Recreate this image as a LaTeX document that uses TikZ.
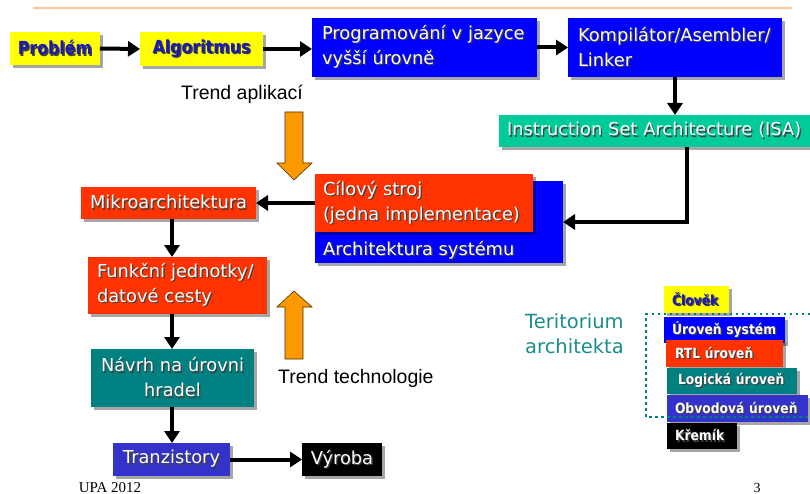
\documentclass[tikz,border=0pt]{standalone}
\usepackage{fontspec}
\setmainfont{DejaVu Sans}
\newfontfamily\narrowbold{DejaVu Sans}[FakeStretch=0.88]
\newfontfamily\arialfont{Liberation Sans}
\newfontfamily\timesfont{Liberation Serif}
\usetikzlibrary{arrows.meta,shadows}

\definecolor{cYellow}{HTML}{FFFF00}
\definecolor{cBlue}{HTML}{0000FF}
\definecolor{cRed}{HTML}{FF3300}
\definecolor{cTeal}{HTML}{008080}
\definecolor{cIsa}{HTML}{00CC99}
\definecolor{cSlate}{HTML}{3333CC}
\definecolor{cOrange}{HTML}{FF9900}
\definecolor{cInk}{HTML}{1A1AB4}
\definecolor{cRule}{HTML}{FAC59A}
\definecolor{cTerr}{HTML}{1A8C8C}

% one line of text with a small dark drop shadow
\newcommand\sht[1]{\leavevmode\rlap{\kern1.3pt\raisebox{-1.3pt}{\color{black!75}\mbox{#1}}}\mbox{#1}}

\begin{document}
\begin{tikzpicture}[x=1pt, y=-1pt,
  box/.style={anchor=north west, inner sep=0pt, outer sep=0pt, text=white,
    font=\fontsize{17.8}{25}\selectfont,
    drop shadow={shadow xshift=3pt, shadow yshift=-3pt, fill=black, opacity=0.35}},
  hdr/.style={box, text=cInk, font=\narrowbold\bfseries\fontsize{18}{20}\selectfont},
  lg/.style={box, font=\narrowbold\bfseries\fontsize{14}{16}\selectfont, align=left},
  conn/.style={line width=4pt, -{Triangle[length=12pt,width=15pt]}},
  trend/.style={draw=black!70!cOrange, line width=0.6pt, fill=cOrange, line join=miter},
  note/.style={inner sep=0pt, font=\arialfont\fontsize{19.5}{22}\selectfont}]

\useasboundingbox (0,0) rectangle (810,494);

% title rule
\draw[cRule, line width=2.5pt] (33,8) -- (792,8);

% top row
\node[hdr, fill=cYellow, minimum width=90pt, minimum height=33pt] (prob) at (10,32) {\sht{Problém}};
\node[hdr, fill=cYellow, minimum width=123pt, minimum height=34pt] (alg) at (140,32) {\sht{Algoritmus}};
\node[box, fill=cBlue, minimum width=225pt, minimum height=59pt, inner xsep=10pt, text width=205pt, align=left] (prog) at (312,18)
  {\sht{Programování v jazyce}\\\sht{vyšší úrovně}};
\node[box, fill=cBlue, minimum width=214pt, minimum height=59pt, inner xsep=10pt, text width=194pt, align=left] (komp) at (568,18)
  {\sht{Kompilátor/Asembler/}\\\sht{Linker}};
\node[box, fill=cIsa, minimum width=311pt, minimum height=32pt, inner xsep=8pt, text width=295pt, align=left] (isa) at (499,115)
  {\sht{Instruction Set Architecture (ISA)}};

% target machine and system architecture
\node[box, fill=cBlue, minimum width=248pt, minimum height=82pt] (sys) at (315,181) {};
\node[anchor=base west, inner sep=0pt, text=white, font=\fontsize{17.8}{25}\selectfont] (systxt) at (323,255) {\sht{Architektura systému}};
\node[box, fill=cRed, minimum width=218pt, minimum height=58pt, inner xsep=8pt, text width=202pt, align=left] (cil) at (315,174)
  {\sht{Cílový stroj}\\\sht{(jedna implementace)}};

% left column
\node[box, fill=cRed, minimum width=175pt, minimum height=32pt] (mikro) at (81,187) {\sht{Mikroarchitektura}};
\node[box, fill=cRed, minimum width=179pt, minimum height=57pt, inner xsep=9pt, text width=161pt, align=left] (funk) at (88,257)
  {\sht{Funkční jednotky/}\\\sht{datové cesty}};
\node[box, fill=cTeal, minimum width=163pt, minimum height=58pt, text width=163pt, align=center] (navrh) at (91,349)
  {\sht{Návrh na úrovni}\\\sht{hradel}};
\node[box, fill=cSlate, minimum width=117pt, minimum height=33pt] (tranz) at (113,443) {\sht{Tranzistory}};
\node[box, fill=black, minimum width=80pt, minimum height=33pt] (vyr) at (302,443) {\sht{Výroba}};

% connectors
\coordinate (spine) at (172,0);
\coordinate (bend) at (687,222);
\draw[conn] (prob.east) -- (alg.west);
\draw[conn] (alg.east) -- (alg.east -| prog.west);
\draw[conn] (prog.east) -- (komp.west);
\draw[conn] (komp.south) -- (komp.south |- isa.north);
\draw[conn] (isa.south -| bend) -- (bend) -- (bend -| sys.east);
\draw[conn] (cil.west) -- (mikro.east);
\draw[conn] (mikro.south -| spine) -- (funk.north -| spine);
\draw[conn] (funk.south -| spine) -- (navrh.north -| spine);
\draw[conn] (navrh.south -| spine) -- (tranz.north -| spine);
\draw[conn] (tranz.east) -- (vyr.west);

% trend arrows
\draw[trend] (285,112) -- (303,112) -- (303,163) -- (312,163) -- (294,180) -- (277,163) -- (285,163) -- cycle;
\draw[trend] (285,359) -- (303,359) -- (303,307) -- (312,307) -- (294,291) -- (277,307) -- (285,307) -- cycle;
\node[note, anchor=base] (tapp) at (242,100) {Trend aplikací};
\node[note, anchor=base west] (ttech) at (278,383) {Trend technologie};

% levels legend
\node[lg, fill=cYellow, text=cInk, minimum width=65pt, minimum height=27pt, inner xsep=8pt, text width=49pt] (clov) at (664,286) {\sht{Člověk}};
\node[lg, fill=cBlue, minimum width=121pt, minimum height=26pt, inner xsep=8pt, text width=105pt] (usys) at (664,317) {\sht{Úroveň systém}};
\node[lg, fill=cRed, minimum width=117pt, minimum height=27pt, inner xsep=9pt, text width=99pt] (urtl) at (666,340) {\sht{RTL úroveň}};
\node[lg, fill=cTeal, minimum width=130pt, minimum height=26pt, inner xsep=11pt, text width=108pt] (ulog) at (667,368) {\sht{Logická úroveň}};
\node[lg, fill=cSlate, minimum width=141pt, minimum height=27pt, inner xsep=8pt, text width=125pt] (uobv) at (667,395) {\sht{Obvodová úroveň}};
\node[lg, fill=black, minimum width=70pt, minimum height=26pt, inner xsep=8pt, text width=54pt] (ukrem) at (667,423) {\sht{Křemík}};

% architect's territory
\draw[cTeal, line width=2.5pt, dash pattern=on 2.5pt off 3.5pt] (810,314) -- (646,314) -- (646,417) -- (810,417);
\node[anchor=base west, inner sep=0pt, align=left, text=cTerr, font=\fontsize{19.5}{25}\selectfont] (terr) at (525,353)
  {Teritorium\\architekta};

% footer
\node[anchor=base, inner sep=0pt, font=\timesfont\fontsize{15}{18}\selectfont] (foot) at (110,492) {UPA 2012};
\node[anchor=base, inner sep=0pt, font=\timesfont\fontsize{14}{18}\selectfont] (page) at (757,492) {3};
\end{tikzpicture}
\end{document}
